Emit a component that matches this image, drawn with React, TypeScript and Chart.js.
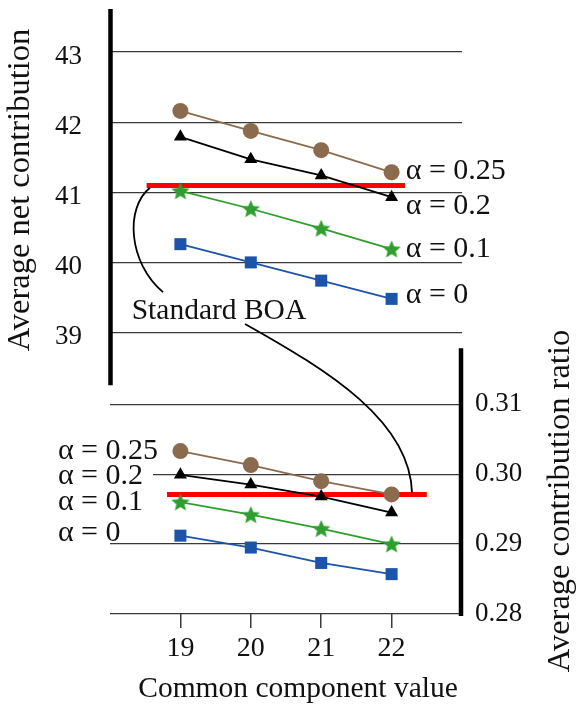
import React, { useEffect, useRef } from 'react';
import { Chart, registerables } from 'chart.js';

Chart.register(...registerables);

// ---------- data ----------
const categories = [19, 20, 21, 22];
const seriesLabels = ['α = 0.25', 'α = 0.2', 'α = 0.1', 'α = 0'];

// upper panel: Average net contribution
const netAlpha025 = [42.16, 41.875, 41.60, 41.285];
const netAlpha02 = [41.79, 41.47, 41.24, 40.93];
const netAlpha01 = [41.02, 40.765, 40.485, 40.19];
const netAlpha0 = [40.26, 40.0, 39.74, 39.48];
const netBOA = 41.096;
const netBOAx = [18.52, 22.19];

// lower panel: Average contribution ratio
const ratioAlpha025 = [0.3033, 0.3013, 0.2990, 0.2971];
const ratioAlpha02 = [0.2999, 0.2985, 0.2968, 0.2945];
const ratioAlpha01 = [0.2960, 0.2942, 0.2922, 0.2900];
const ratioAlpha0 = [0.2912, 0.2895, 0.2873, 0.2857];
const ratioBOA = 0.2971;
const ratioBOAx = [18.81, 22.5];

const netTicks = [39, 40, 41, 42, 43];
const ratioTicks = [0.28, 0.29, 0.3, 0.31];

// ---------- styling ----------
const FONT = "'Liberation Serif', 'Times New Roman', serif";
const BROWN = '#8b6b4e';
const BLACK = '#000000';
const GREEN = '#2e9f2e';
const BLUE = '#1c54aa';
const RED = '#ff0000';
const GRID = '#3a3a3a';

const upperLabelX = 22.2;
const upperLabelY = [41.19, 40.695, 40.072, 39.42];
const lowerLabelX = 17.26;
const lowerLabelY = [0.30216, 0.29861, 0.29491, 0.29037];
const boaText = { x: 18.308, y: 39.198 };
const connectors = [
  [[18.568, 41.064], [18.213, 40.78], [18.256, 40.001], [18.753, 39.576]],
  [[19.918, 39.123], [21.125, 38.443], [22.261, 37.735], [22.29, 36.715]],
];
const leftAxisLine = [43.613, 38.25];
const rightAxisLine = [0.318, 0.2797];

function makeStar(color: string) {
  const c = document.createElement('canvas');
  c.width = 20;
  c.height = 20;
  const g = c.getContext('2d')!;
  g.beginPath();
  for (let i = 0; i < 10; i++) {
    const r = i % 2 === 0 ? 9.6 : 4.3;
    const a = -Math.PI / 2 + (i * Math.PI) / 5;
    const px = 10 + r * Math.cos(a);
    const py = 10.8 + r * Math.sin(a);
    if (i === 0) g.moveTo(px, py);
    else g.lineTo(px, py);
  }
  g.closePath();
  g.fillStyle = color;
  g.fill();
  return c;
}

const pts = (ys: number[]) => categories.map((x, i) => ({ x, y: ys[i] }));

export default function App() {
  const ref = useRef<HTMLCanvasElement | null>(null);

  useEffect(() => {
    if (!ref.current) return;
    const star = makeStar(GREEN);

    const series = (label: string, ys: number[], axis: string, color: string, style: any, radius: number) => ({
      label,
      data: pts(ys),
      yAxisID: axis,
      borderColor: color,
      backgroundColor: color,
      borderWidth: 1.8,
      pointStyle: style,
      pointRadius: radius,
      pointBorderWidth: 0,
      pointBackgroundColor: color,
      order: 1,
    });

    const annot = {
      id: 'annot',
      afterDraw(chart: any) {
        const ctx = chart.ctx;
        const sx = chart.scales.x;
        const sy = chart.scales.y;
        const sy2 = chart.scales.y2;
        ctx.save();
        // thick axis lines
        ctx.strokeStyle = '#000';
        ctx.lineWidth = 4.5;
        ctx.beginPath();
        ctx.moveTo(sx.left + 0.5, sy.getPixelForValue(leftAxisLine[0]));
        ctx.lineTo(sx.left + 0.5, sy.getPixelForValue(leftAxisLine[1]));
        ctx.stroke();
        ctx.beginPath();
        ctx.moveTo(sx.right - 1, sy2.getPixelForValue(rightAxisLine[0]));
        ctx.lineTo(sx.right - 1, sy2.getPixelForValue(rightAxisLine[1]));
        ctx.stroke();

        // connectors
        ctx.lineWidth = 1.8;
        for (const c of connectors) {
          const p = c.map(([vx, vy]) => [sx.getPixelForValue(vx), sy.getPixelForValue(vy)]);
          ctx.beginPath();
          ctx.moveTo(p[0][0], p[0][1]);
          ctx.bezierCurveTo(p[1][0], p[1][1], p[2][0], p[2][1], p[3][0], p[3][1]);
          ctx.stroke();
        }

        const text = (s: string, x: number, y: number, size: number, bgPadRight = 0) => {
          ctx.font = `${size}px ${FONT}`;
          ctx.textAlign = 'left';
          ctx.textBaseline = 'alphabetic';
          if (bgPadRight > 0) {
            const w = ctx.measureText(s).width;
            ctx.fillStyle = '#fff';
            ctx.fillRect(x - 2, y - size * 0.72, w + bgPadRight, size * 0.76);
          }
          ctx.fillStyle = '#111';
          ctx.fillText(s, x, y);
        };

        seriesLabels.forEach((s, i) => {
          text(s, sx.getPixelForValue(upperLabelX), sy.getPixelForValue(upperLabelY[i]), 30);
          text(s, sx.getPixelForValue(lowerLabelX), sy2.getPixelForValue(lowerLabelY[i]), 30, 12);
        });
        text('Standard BOA', sx.getPixelForValue(boaText.x), sy.getPixelForValue(boaText.y), 29.5);

        // axis titles
        ctx.fillStyle = '#111';
        ctx.font = `29.5px ${FONT}`;
        ctx.textAlign = 'center';
        ctx.textBaseline = 'alphabetic';
        ctx.fillText('Common component value', 298, 697);

        ctx.font = `32.5px ${FONT}`;
        ctx.save();
        ctx.translate(29, 190);
        ctx.rotate(-Math.PI / 2);
        ctx.fillText('Average net contribution', 0, 0);
        ctx.restore();

        ctx.save();
        ctx.translate(569, 501);
        ctx.rotate(-Math.PI / 2);
        ctx.fillText('Average contribution ratio', 0, 0);
        ctx.restore();

        ctx.restore();
      },
    };

    const fitY = (w: number) => (s: any) => {
      s.width = w;
      s.paddingTop = 0;
      s.paddingBottom = 0;
    };

    const chart = new Chart(ref.current, {
      type: 'line',
      data: {
        datasets: [
          series(seriesLabels[0], netAlpha025, 'y', BROWN, 'circle', 8),
          series(seriesLabels[1], netAlpha02, 'y', BLACK, 'triangle', 7.5),
          series(seriesLabels[2], netAlpha01, 'y', GREEN, star, 9),
          series(seriesLabels[3], netAlpha0, 'y', BLUE, 'rect', 8.5),
          series(seriesLabels[0], ratioAlpha025, 'y2', BROWN, 'circle', 8),
          series(seriesLabels[1], ratioAlpha02, 'y2', BLACK, 'triangle', 7.5),
          series(seriesLabels[2], ratioAlpha01, 'y2', GREEN, star, 9),
          series(seriesLabels[3], ratioAlpha0, 'y2', BLUE, 'rect', 8.5),
          {
            label: 'Standard BOA',
            data: netBOAx.map((x) => ({ x, y: netBOA })),
            yAxisID: 'y',
            borderColor: RED,
            borderWidth: 5,
            pointRadius: 0,
            order: 10,
          },
          {
            label: 'Standard BOA',
            data: ratioBOAx.map((x) => ({ x, y: ratioBOA })),
            yAxisID: 'y2',
            borderColor: RED,
            borderWidth: 5,
            pointRadius: 0,
            order: 10,
          },
        ] as any,
      },
      options: {
        animation: false,
        responsive: false,
        devicePixelRatio: 1,
        layout: { padding: { top: 5, left: 0, right: 0, bottom: 0 } },
        plugins: { legend: { display: false }, tooltip: { enabled: false } },
        scales: {
          x: {
            type: 'linear',
            min: 18,
            max: 23,
            afterBuildTicks: (s: any) => {
              s.ticks = categories.map((v) => ({ value: v }));
            },
            afterFit: (s: any) => {
              s.height = 90;
              s.paddingLeft = 0;
              s.paddingRight = 0;
            },
            grid: { drawOnChartArea: false, drawTicks: true, tickLength: 14, color: GRID, lineWidth: 1.5 },
            border: { display: false },
            ticks: { padding: 4, color: '#111', font: { family: FONT, size: 28 } },
          },
          y: {
            position: 'left',
            min: 34.987,
            max: 43.613,
            afterBuildTicks: (s: any) => {
              s.ticks = netTicks.map((v) => ({ value: v }));
            },
            afterFit: fitY(110),
            grid: { drawTicks: false, color: GRID, lineWidth: 1.2 },
            border: { display: false },
            ticks: {
              padding: 28,
              color: '#111',
              font: { family: FONT, size: 27, lineHeight: 0.36 },
              callback: (v: any) => ['', String(v)],
            },
          },
          y2: {
            position: 'right',
            min: 0.28,
            max: 0.36651,
            afterBuildTicks: (s: any) => {
              s.ticks = ratioTicks.map((v) => ({ value: v }));
            },
            afterFit: fitY(115),
            grid: { drawTicks: false, color: GRID, lineWidth: 1.2 },
            border: { display: false },
            ticks: {
              padding: 13,
              color: '#111',
              font: { family: FONT, size: 27 },
              callback: (v: any) => Number(v).toFixed(2),
            },
          },
        },
      } as any,
      plugins: [annot],
    });
    return () => chart.destroy();
  }, []);

  return (
    <div style={{ position: 'absolute', left: 0, top: 0, width: 577, height: 704, background: '#fff' }}>
      <canvas ref={ref} width={577} height={704} style={{ display: 'block' }} />
    </div>
  );
}
